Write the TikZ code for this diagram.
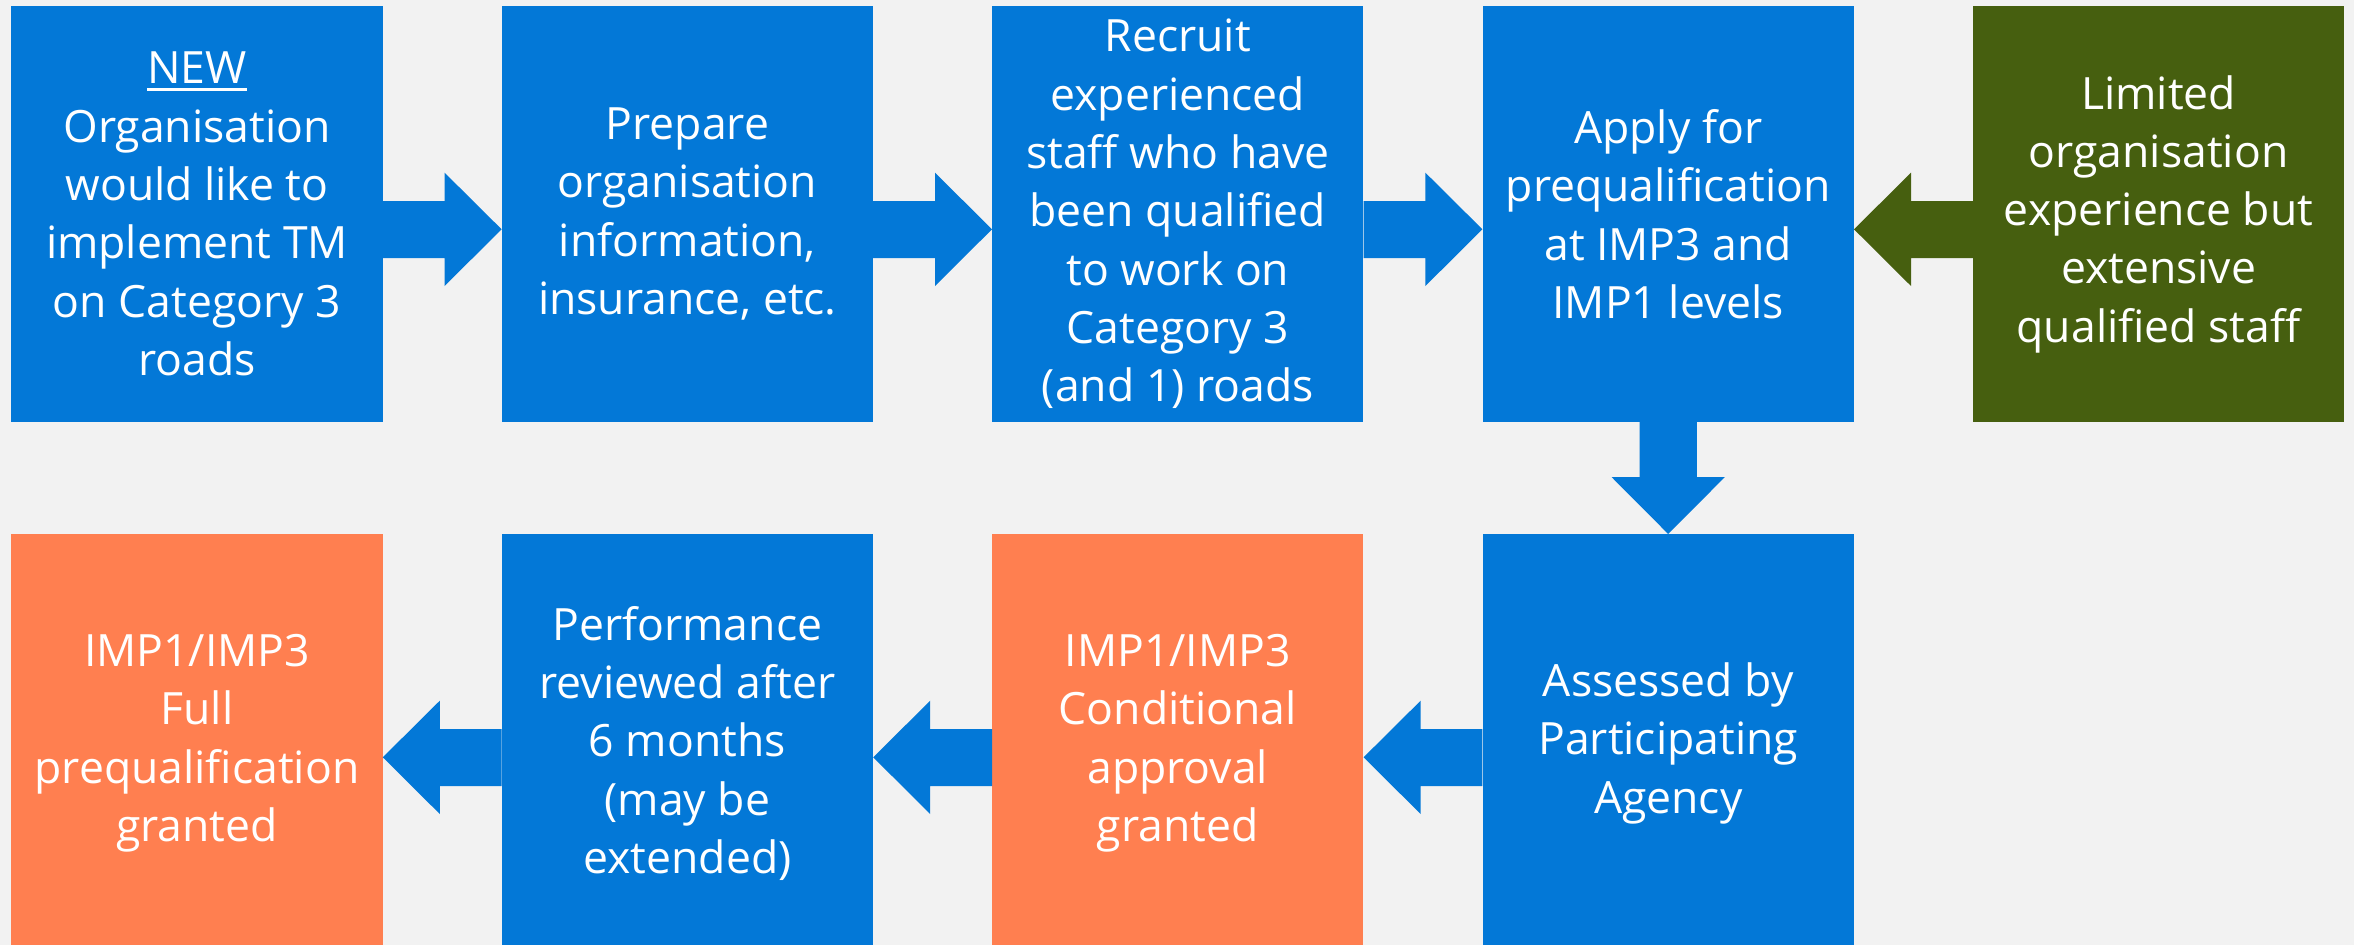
\documentclass[tikz,border=0pt]{standalone}
\usepackage{fontspec}
\setmainfont{Open Sans}
\usetikzlibrary{calc}
\definecolor{bgc}{RGB}{242,242,242}
\definecolor{bluec}{RGB}{3,120,215}
\definecolor{orangec}{RGB}{255,127,80}
\definecolor{greenc}{RGB}{70,95,15}
\newcommand\newul[1]{\setbox0\hbox{#1}\rlap{\rule[-7pt]{\wd0}{2.5pt}}\box0}
\newcommand\rarrowfill[3]{\fill[#3] ($(#1.north east)+(0,195)$) -- ($(#2.north west)+(-57,195)$) -- ($(#2.north west)+(-57,166.7)$) -- ($(#2.north west)+(0,223.3)$) -- ($(#2.north west)+(-57,280)$) -- ($(#2.north west)+(-57,252)$) -- ($(#1.north east)+(0,252)$) -- cycle;}
\newcommand\larrowfill[3]{\fill[#3] ($(#1.north west)+(0,195)$) -- ($(#2.north east)+(57,195)$) -- ($(#2.north east)+(57,166.7)$) -- ($(#2.north east)+(0,223.3)$) -- ($(#2.north east)+(57,280)$) -- ($(#2.north east)+(57,252)$) -- ($(#1.north west)+(0,252)$) -- cycle;}
\begin{document}
\begin{tikzpicture}[x=1pt,y=-1pt,
  box/.style={rectangle, inner sep=0pt, minimum width=371.2pt, minimum height=415.7pt,
    text=white, align=center, font=\fontsize{44.5}{58.3}\selectfont, anchor=north west},
  bluebox/.style={box, fill=bluec},
  orangebox/.style={box, fill=orangec},
  greenbox/.style={box, fill=greenc},
  lowbox/.style={minimum height=418pt}
]
\useasboundingbox (0,0) rectangle (2354,945);
\fill[bgc] (0,0) rectangle (2354,945);
\clip (0,0) rectangle (2354,945);
% top row
\node[bluebox] (b1) at (11.2,6) {\newul{NEW}\\Organisation\\would like to\\implement TM\\on Category 3\\roads};
\node[bluebox] (b2) at (501.6,6) {Prepare\\organisation\\information,\\insurance, etc.};
\node[bluebox] (b3) at (992,6) {Recruit\\experienced\\staff who have\\been qualified\\to work on\\Category 3\\(and 1) roads};
\node[bluebox] (b4) at (1482.4,6) {Apply for\\prequalification\\at IMP3 and\\IMP1 levels};
\node[greenbox] (g5) at (1972.8,6) {Limited\\organisation\\experience but\\extensive\\qualified staff};
% bottom row
\node[bluebox, lowbox] (b6) at (1482.4,534) {Assessed by\\Participating\\Agency};
\node[orangebox, lowbox] (o7) at (992,534) {IMP1/IMP3\\Conditional\\approval\\granted};
\node[bluebox, lowbox] (b8) at (501.6,534) {Performance\\reviewed after\\6 months\\(may be\\extended)};
\node[orangebox, lowbox] (o9) at (11.2,534) {IMP1/IMP3\\Full\\prequalification\\granted};
% arrows
\rarrowfill{b1}{b2}{bluec}
\rarrowfill{b2}{b3}{bluec}
\rarrowfill{b3}{b4}{bluec}
\larrowfill{g5}{b4}{greenc}
\fill[bluec] ($(b4.south)+(-28.6,0)$) -- ($(b6.north)+(-28.6,-57)$) -- ($(b6.north)+(-56.7,-57)$) -- (b6.north) -- ($(b6.north)+(56.7,-57)$) -- ($(b6.north)+(28.6,-57)$) -- ($(b4.south)+(28.6,0)$) -- cycle;
\larrowfill{b6}{o7}{bluec}
\larrowfill{o7}{b8}{bluec}
\larrowfill{b8}{o9}{bluec}
\end{tikzpicture}
\end{document}
